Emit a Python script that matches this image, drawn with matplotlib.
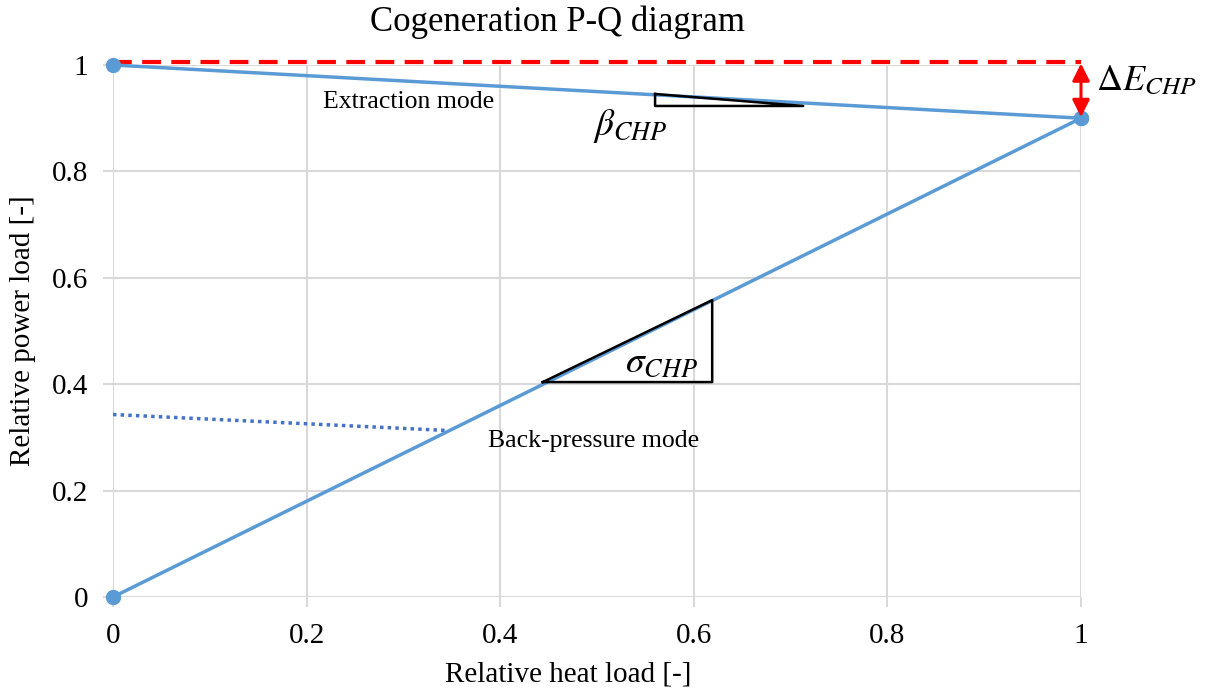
import matplotlib
matplotlib.use("Agg")
import matplotlib.pyplot as plt

plt.rcParams['font.family'] = ['Liberation Serif', 'DejaVu Serif']
plt.rcParams['mathtext.fontset'] = 'stix'

# Data
heat_bp = [0.0, 1.0]
power_bp = [0.0, 0.9]
heat_ext = [0.0, 1.0]
power_ext = [1.0, 0.9]
heat_max = [0.0, 1.0]
power_max = [1.005, 1.005]
heat_dotted = [0.0, 0.345]
power_dotted = [0.343, 0.313]
beta_tri_x = [0.56, 0.56, 0.713, 0.56]
beta_tri_y = [0.9455, 0.923, 0.923, 0.9455]
sigma_tri_x = [0.444, 0.619, 0.619, 0.444]
sigma_tri_y = [0.404, 0.404, 0.558, 0.404]
dE_x = 1.0
dE_y = [0.902, 1.003]
xticks = [0, 0.2, 0.4, 0.6, 0.8, 1]
xticklabels = ['0', '0.2', '0.4', '0.6', '0.8', '1']
yticks = [0, 0.2, 0.4, 0.6, 0.8, 1]
yticklabels = ['0', '0.2', '0.4', '0.6', '0.8', '1']

fig = plt.figure(figsize=(12.14, 6.93), dpi=100)
ax = fig.add_axes([113/1214, 1-597/693, (1081-113)/1214, (597-65)/693])
ax.set_xlim(0, 1)
ax.set_ylim(0, 1)

blue = '#5b9bd5'
grid = '#d9d9d9'

ax.plot(heat_max, power_max, color='#ff0000', lw=3, dashes=(4.5, 2.5), clip_on=False, zorder=3)
ax.plot(heat_bp, power_bp, color=blue, lw=2.5, marker='o', ms=10, clip_on=False, zorder=4)
ax.plot(heat_ext, power_ext, color=blue, lw=2.5, marker='o', ms=10, clip_on=False, zorder=4)
ax.plot(heat_dotted, power_dotted, color='#4472c4', lw=2.5, linestyle=(0, (1, 1.2)), zorder=3)

ax.plot(beta_tri_x, beta_tri_y, color='black', lw=1.8, zorder=5)
ax.plot(sigma_tri_x, sigma_tri_y, color='black', lw=1.8, zorder=5)

ax.annotate('', xy=(dE_x, dE_y[0]), xytext=(dE_x, dE_y[1]),
            arrowprops=dict(arrowstyle='<|-|>', color='#ff0000', lw=2.2,
                            mutation_scale=26, shrinkA=0, shrinkB=0),
            annotation_clip=False, zorder=6)

ax.text(0.305, 0.93, 'Extraction mode', fontsize=18.5, ha='center', va='center')
ax.text(0.496, 0.293, 'Back-pressure mode', fontsize=18.5, ha='center', va='center')
ax.text(0.534, 0.885, r'$\beta_{CHP}$', fontsize=27, ha='center', va='center')
ax.text(0.567, 0.44, r'$\sigma_{CHP}$', fontsize=27, ha='center', va='center')
ax.text(1.067, 0.968, r'$\Delta E_{CHP}$', fontsize=26, ha='center', va='center', clip_on=False)

ax.set_xticks(xticks)
ax.set_xticklabels(xticklabels)
ax.set_yticks(yticks)
ax.set_yticklabels(yticklabels)
ax.grid(True, color=grid, lw=1.5)
ax.set_axisbelow(True)
for s in ax.spines.values():
    s.set_visible(False)
ax.tick_params(axis='both', length=7, width=1.5, color=grid, labelsize=21)
ax.tick_params(axis='x', pad=12)
ax.tick_params(axis='y', pad=11)

ax.set_xlabel('Relative heat load [-]', fontsize=21)
ax.xaxis.set_label_coords((568-113)/968, -(675-597)/532, transform=ax.transAxes)
ax.xaxis.label.set_va('center')
ax.set_ylabel('Relative power load [-]', fontsize=21)
ax.yaxis.set_label_coords(-(113-23)/968, 0.5, transform=ax.transAxes)
ax.yaxis.label.set_va('center')
fig.text(557/1214, 1-22/693, 'Cogeneration P-Q diagram', fontsize=25, ha='center', va='center')

fig.savefig('out.png', dpi=100)
